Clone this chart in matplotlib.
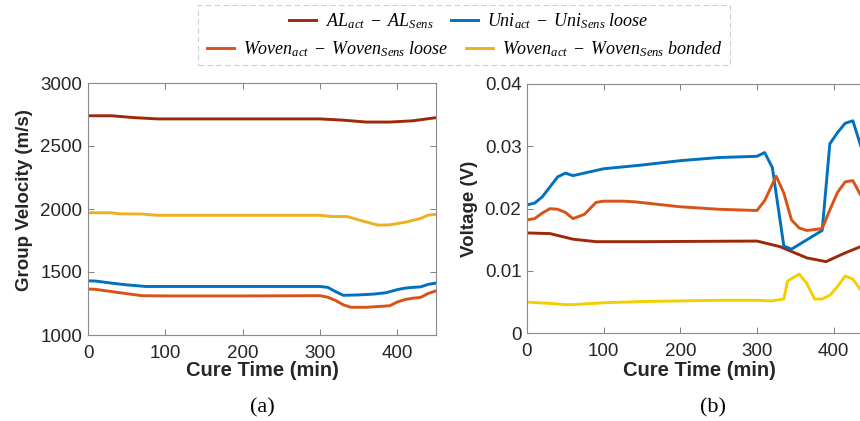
import matplotlib
matplotlib.use('Agg')
import matplotlib.pyplot as plt
from matplotlib.patches import Rectangle
from matplotlib.lines import Line2D

plt.rcParams['font.family'] = ['Liberation Sans', 'DejaVu Sans']
plt.rcParams['mathtext.fontset'] = 'custom'
plt.rcParams['mathtext.it'] = 'Liberation Serif:italic'
plt.rcParams['mathtext.rm'] = 'Liberation Serif'

# colours
c_al = '#9C2A0A'
c_uni = '#0072BD'
c_wl = '#D95319'
c_wb = '#EDB120'
c_wb2 = '#F5CE00'

# ---- (a) group velocity ----
t_al_a = [0, 30, 60, 90, 150, 200, 250, 300, 330, 360, 390, 420, 450]
v_al_a = [2740, 2740, 2725, 2715, 2715, 2715, 2715, 2715, 2705, 2690, 2690, 2700, 2725]

t_uni_a = [0, 10, 30, 50, 75, 100, 150, 200, 250, 300, 310, 320, 330, 350, 370, 385, 400, 410, 420, 430, 440, 450]
v_uni_a = [1430, 1428, 1412, 1398, 1385, 1385, 1385, 1385, 1385, 1385, 1378, 1345, 1315, 1318, 1325, 1335, 1360, 1372, 1378, 1382, 1402, 1412]

t_wl_a = [0, 10, 30, 50, 70, 100, 200, 300, 310, 320, 330, 340, 360, 380, 390, 400, 410, 420, 430, 440, 450]
v_wl_a = [1365, 1362, 1345, 1328, 1312, 1310, 1310, 1312, 1300, 1275, 1240, 1220, 1220, 1228, 1232, 1262, 1282, 1292, 1298, 1330, 1350]

t_wb_a = [0, 30, 40, 70, 90, 300, 315, 335, 355, 375, 390, 410, 430, 440, 450]
v_wb_a = [1970, 1970, 1962, 1960, 1950, 1950, 1940, 1940, 1905, 1872, 1874, 1895, 1925, 1952, 1958]

# ---- (b) voltage ----
t_al_b = [0, 30, 60, 90, 150, 300, 330, 365, 390, 415, 435, 450]
u_al_b = [0.0161, 0.0160, 0.0151, 0.0147, 0.0147, 0.0148, 0.0139, 0.0121, 0.0115, 0.0129, 0.0139, 0.0145]

t_uni_b = [0, 10, 20, 30, 40, 50, 60, 100, 150, 200, 250, 300, 310, 320, 335, 345, 385, 395, 405, 415, 425, 435, 450]
u_uni_b = [0.0206, 0.0209, 0.0219, 0.0235, 0.0251, 0.0257, 0.0253, 0.0264, 0.0270, 0.0277, 0.0282, 0.0284, 0.0290, 0.0266, 0.0140, 0.0135, 0.0165, 0.0304, 0.0322, 0.0337, 0.0341, 0.0302, 0.0260]

t_wl_b = [0, 10, 20, 30, 40, 50, 60, 75, 90, 100, 125, 140, 170, 200, 250, 300, 310, 325, 335, 345, 355, 365, 385, 395, 405, 415, 425, 435, 450]
u_wl_b = [0.0182, 0.0184, 0.0193, 0.0200, 0.0199, 0.0194, 0.0184, 0.0191, 0.0210, 0.0212, 0.0212, 0.0211, 0.0207, 0.0203, 0.0199, 0.0197, 0.0213, 0.0252, 0.0225, 0.0182, 0.0169, 0.0165, 0.0168, 0.0198, 0.0226, 0.0243, 0.0245, 0.0222, 0.0205]

t_wb_b = [0, 30, 50, 60, 100, 150, 200, 250, 300, 320, 335, 340, 355, 365, 375, 385, 395, 405, 415, 425, 435, 450]
u_wb_b = [0.0050, 0.0048, 0.0046, 0.0046, 0.0049, 0.0051, 0.0052, 0.0053, 0.0053, 0.0052, 0.0055, 0.0084, 0.0095, 0.0080, 0.0055, 0.0055, 0.0061, 0.0075, 0.0092, 0.0087, 0.0070, 0.0060]

W, H = 860, 421
fig = plt.figure(figsize=(W / 100, H / 100), dpi=100)

ax1 = fig.add_axes([88 / W, 1 - 335 / H, 348 / W, 252 / H])
ax2 = fig.add_axes([527 / W, 1 - 333.3 / H, 345 / W, 249.3 / H])

lw = 2.1
ax1.plot(t_al_a, v_al_a, color=c_al, lw=lw)
ax1.plot(t_uni_a, v_uni_a, color=c_uni, lw=lw)
ax1.plot(t_wl_a, v_wl_a, color=c_wl, lw=lw)
ax1.plot(t_wb_a, v_wb_a, color=c_wb, lw=lw)

ax2.plot(t_al_b, u_al_b, color=c_al, lw=lw)
ax2.plot(t_uni_b, u_uni_b, color=c_uni, lw=lw)
ax2.plot(t_wl_b, u_wl_b, color=c_wl, lw=lw)
ax2.plot(t_wb_b, u_wb_b, color=c_wb2, lw=lw)

ax1.set_xlim(0, 450)
ax1.set_ylim(1000, 3000)
ax1.set_yticks([1000, 1500, 2000, 2500, 3000])
ax2.set_xlim(0, 450)
ax2.set_ylim(0, 0.04)
ax2.set_yticks([0, 0.01, 0.02, 0.03, 0.04])
ax2.set_yticklabels(['0', '0.01', '0.02', '0.03', '0.04'])

for ax in (ax1, ax2):
    ax.set_xticks([0, 100, 200, 300, 400])
    ax.tick_params(direction='in', top=True, right=True, length=4, width=0.7,
                   color='#808080', labelsize=13.5, labelcolor='#262626')
    ax.tick_params(axis='x', pad=7)
    ax.tick_params(axis='y', pad=4)
    for s in ax.spines.values():
        s.set_color('#8a8a8a')
        s.set_linewidth(0.8)
    ax.set_xlabel('Cure Time (min)', fontsize=14.5, fontweight='bold', color='#262626', va='top')

ax1.set_ylabel('Group Velocity (m/s)', fontsize=13.5, fontweight='bold', color='#262626')
ax2.set_ylabel('Voltage (V)', fontsize=13.5, fontweight='bold', color='#262626')
# ylabel anchor is the right-hand edge of the rotated text
ax1.yaxis.set_label_coords(-0.158, 0.536)
ax2.yaxis.set_label_coords(-0.142, 0.498)
ax1.xaxis.set_label_coords(0.5, -0.105)
ax2.xaxis.set_label_coords(0.501, -0.113)

fig.text(262 / W, 1 - 408 / H, '(a)', ha='center', va='center', fontsize=16,
         family='Liberation Serif')
fig.text(713 / W, 1 - 408 / H, '(b)', ha='center', va='center', fontsize=16,
         family='Liberation Serif')

# legend box
fig.patches.append(Rectangle((198 / W, 1 - 65 / H), (730 - 198) / W, 60 / H,
                             transform=fig.transFigure, fill=False,
                             edgecolor='#cfcfcf', linestyle=(0, (5, 3)), linewidth=0.8))

lab_al = r'$AL_{act}\ -\ AL_{Sens}$'
lab_uni = r'$Uni_{act}\ -\ Uni_{Sens}\ loose$'
lab_wl = r'$Woven_{act}\ -\ Woven_{Sens}\ loose$'
lab_wb = r'$Woven_{act}\ -\ Woven_{Sens}\ bonded$'

leg_kw = dict(frameon=False, ncol=2, fontsize=13, handlelength=1.5,
              handletextpad=0.5, columnspacing=1.0, borderpad=0, borderaxespad=0)
leg1 = fig.legend([Line2D([], [], color=c_al, lw=lw), Line2D([], [], color=c_uni, lw=lw)],
                  [lab_al, lab_uni], loc='center', bbox_to_anchor=(469 / W, 1 - 21 / H), **leg_kw)
leg2 = fig.legend([Line2D([], [], color=c_wl, lw=lw), Line2D([], [], color=c_wb, lw=lw)],
                  [lab_wl, lab_wb], loc='center', bbox_to_anchor=(465 / W, 1 - 49 / H), **leg_kw)

fig.savefig('out.png', dpi=100)
